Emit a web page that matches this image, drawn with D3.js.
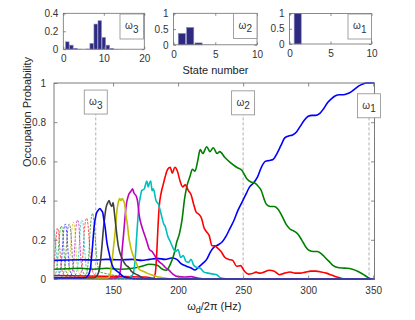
<!DOCTYPE html>
<html><head><meta charset="utf-8">
<script src="https://cdn.jsdelivr.net/npm/d3@7"></script>
<style>
body{margin:0;background:#fff}
svg{display:block}
text{font-family:"Liberation Sans",Arial,Helvetica,sans-serif}
</style>
</head><body>
<svg id="chart" width="415" height="320"></svg>
<script>
// ---------------- DATA ----------------
const mainXTicks = [150, 200, 250, 300, 350];
const mainYTicks = [0, 0.2, 0.4, 0.6, 0.8, 1];
const mainYTickLabels = ["0", "0.2", "0.4", "0.6", "0.8", "1"];

const markerLabels = ["3", "2", "1"];
const markerFreqs = [136.7, 250.0, 346.8];

// thick curves: states 1..8  [frequency (Hz), probability]
const state1 = [[104.6,0.095],[115,0.097],[125,0.098],[135,0.097],[145,0.1],[155,0.098],[165,0.1],[172,0.095],[178,0.1],[184,0.105],[190,0.1],[195,0.107],[199,0.1],[202,0.08],[206,0.066],[210,0.056],[213,0.046],[216,0.062],[219,0.08],[222,0.1],[225,0.14],[228,0.165],[231,0.175],[234,0.19],[237,0.22],[240,0.26],[243,0.3],[246,0.35],[249,0.39],[252,0.43],[255,0.47],[258,0.49],[261,0.52],[264,0.57],[267,0.6],[270,0.605],[273,0.61],[276,0.64],[279,0.68],[282,0.72],[285,0.73],[288,0.735],[291,0.75],[294,0.78],[297,0.81],[300,0.83],[303,0.835],[306,0.835],[309,0.845],[312,0.87],[315,0.9],[318,0.92],[321,0.935],[324,0.94],[327,0.94],[330,0.945],[333,0.955],[336,0.97],[339,0.985],[342,0.995],[345,1.0],[351,1.0]];
const state2 = [[104.6,0.05],[115,0.052],[125,0.055],[135,0.05],[145,0.055],[155,0.05],[165,0.055],[172,0.065],[178,0.075],[184,0.07],[188,0.05],[191,0.045],[194,0.075],[197,0.13],[199,0.19],[201,0.23],[203,0.3],[205,0.41],[207,0.48],[209,0.52],[211,0.56],[213,0.55],[215,0.6],[217,0.66],[219,0.64],[222,0.675],[224.5,0.65],[227,0.67],[230,0.64],[232,0.65],[236,0.62],[240,0.595],[245,0.57],[249,0.555],[253,0.51],[256,0.495],[259,0.49],[262,0.47],[264,0.45],[266,0.41],[268,0.38],[271,0.37],[274,0.37],[277,0.355],[280,0.32],[283,0.28],[286,0.255],[289,0.245],[292,0.23],[295,0.2],[298,0.165],[301,0.145],[304,0.14],[307,0.14],[310,0.13],[313,0.11],[316,0.09],[319,0.07],[322,0.06],[326,0.056],[330,0.055],[334,0.05],[338,0.04],[342,0.025],[346,0.008],[349,0],[351,0]];
const state3 = [[104.6,0.018],[130,0.015],[160,0.012],[175,0.01],[181,0.004],[182.5,0.03],[183.5,0.12],[184.5,0.26],[185.5,0.37],[187,0.44],[188.5,0.48],[190,0.52],[192,0.56],[194,0.57],[195.5,0.54],[197.5,0.57],[199.5,0.55],[201.5,0.5],[203.5,0.47],[205.5,0.48],[208,0.45],[210,0.43],[212,0.38],[214,0.34],[216,0.33],[218,0.31],[220,0.26],[222,0.24],[224,0.22],[226,0.17],[228,0.17],[230,0.16],[233,0.14],[236,0.11],[239,0.1],[242,0.095],[245,0.065],[248,0.068],[251,0.04],[254,0.025],[257,0.028],[260,0.035],[263,0.03],[266,0.035],[270,0.045],[274,0.04],[278,0.022],[282,0.03],[286,0.036],[290,0.03],[294,0.03],[298,0.035],[302,0.04],[306,0.04],[310,0.036],[314,0.03],[318,0.02],[322,0.01],[326,0.003],[330,0],[351,0]];
const state4 = [[104.6,0.008],[160,0.005],[165,0.02],[167,0.1],[168,0.2],[169,0.3],[170,0.38],[171,0.42],[172,0.45],[174,0.46],[176,0.5],[177,0.47],[178,0.49],[179,0.5],[180,0.45],[181,0.46],[183,0.4],[185,0.38],[187,0.33],[189,0.28],[190,0.27],[192,0.22],[194,0.19],[196,0.16],[198,0.14],[200,0.15],[202,0.11],[204,0.12],[206,0.09],[208,0.085],[210,0.1],[212,0.07],[214,0.06],[217,0.055],[220,0.035],[223,0.03],[227,0.025],[230,0.02],[233,0.005],[240,0],[351,0]];
const state5 = [[104.6,0.004],[150,0.003],[154,0.01],[156,0.06],[157,0.15],[158,0.22],[159,0.3],[160,0.37],[162,0.43],[164,0.45],[165,0.46],[166,0.44],[168,0.42],[169,0.39],[170,0.33],[172,0.27],[174,0.23],[176,0.19],[178,0.15],[180,0.14],[182,0.12],[184,0.1],[186,0.085],[188,0.075],[190,0.06],[193,0.045],[196,0.025],[200,0.012],[205,0.01],[210,0.012],[215,0.005],[220,0],[351,0]];
const state6 = [[104.6,0.004],[145,0.003],[147,0.01],[148,0.03],[149,0.08],[150,0.14],[151,0.2],[152,0.27],[153,0.35],[154,0.39],[155,0.41],[156,0.4],[157,0.41],[158,0.4],[159,0.38],[160,0.32],[161,0.28],[162,0.22],[163,0.18],[164,0.15],[166,0.11],[168,0.08],[170,0.05],[173,0.04],[176,0.03],[180,0.02],[185,0.01],[190,0.005],[195,0],[351,0]];
const state7 = [[104.6,0.005],[135,0.005],[138,0.02],[139.5,0.05],[140.5,0.1],[141.5,0.17],[142.5,0.25],[143.5,0.31],[144.5,0.36],[146,0.39],[147,0.4],[148,0.38],[149,0.37],[150,0.39],[151,0.34],[152,0.28],[153,0.22],[154,0.17],[155,0.14],[156,0.12],[158,0.09],[160,0.07],[162,0.06],[164,0.04],[166,0.03],[169,0.02],[173,0.005],[178,0],[351,0]];
const state8 = [[104.6,0.003],[128,0.005],[131,0.02],[132.5,0.05],[134,0.15],[135.5,0.27],[137,0.33],[138.5,0.35],[140,0.36],[141,0.35],[142,0.34],[143,0.3],[144,0.26],[145,0.2],[146,0.16],[147,0.13],[148,0.1],[150,0.06],[152,0.045],[155,0.03],[158,0.012],[162,0.005],[170,0],[351,0]];

// thin curves: states 9..18
const state9 = [[104.6,0.004],[125,0.004],[128,0.012],[130,0.04],[131.5,0.14],[132.5,0.26],[133.5,0.32],[134.3,0.335],[135.2,0.3],[136.2,0.22],[137.3,0.12],[138.5,0.06],[140,0.035],[143,0.03],[150,0.02],[160,0.01],[170,0.003],[351,0]];
const state10 = [[104.6,0.004],[121,0.004],[124,0.015],[126,0.05],[127,0.14],[128,0.25],[129,0.3],[129.8,0.31],[130.7,0.28],[131.6,0.2],[132.6,0.1],[134,0.045],[136,0.02],[140,0.01],[150,0.004],[351,0]];
const state11 = [[104.6,0.004],[118,0.005],[121,0.02],[123,0.07],[124,0.17],[125,0.27],[126,0.3],[126.8,0.29],[127.6,0.22],[128.5,0.12],[129.6,0.05],[131.5,0.02],[136,0.008],[145,0.003],[351,0]];
const state12 = [[104.6,0.004],[115,0.005],[117.5,0.02],[119.5,0.07],[120.6,0.17],[121.6,0.27],[122.6,0.3],[123.5,0.29],[124.4,0.2],[125.3,0.1],[126.5,0.045],[128.5,0.02],[133,0.008],[142,0.003],[351,0]];
const state13 = [[104.6,0.004],[112,0.006],[114.5,0.02],[116.3,0.07],[117.4,0.17],[118.5,0.26],[119.4,0.29],[120.3,0.27],[121.2,0.19],[122.1,0.09],[123.3,0.04],[125.5,0.018],[130,0.007],[140,0.003],[351,0]];
const state14 = [[104.6,0.005],[109,0.008],[111.5,0.025],[113.2,0.08],[114.3,0.18],[115.3,0.26],[116.3,0.28],[117.2,0.26],[118.1,0.18],[119,0.08],[120.2,0.035],[122.5,0.015],[127,0.006],[137,0.002],[351,0]];
const state15 = [[104.6,0.006],[108.5,0.025],[110.2,0.08],[111.3,0.18],[112.3,0.26],[113.3,0.28],[114.2,0.25],[115.1,0.17],[116,0.08],[117.2,0.035],[119.5,0.015],[124,0.006],[134,0.002],[351,0]];
const state16 = [[104.6,0.012],[106,0.03],[107.3,0.09],[108.3,0.18],[109.3,0.25],[110.2,0.27],[111.1,0.25],[112,0.17],[112.9,0.08],[114.1,0.035],[116.5,0.015],[121,0.006],[131,0.002],[351,0]];
const state17 = [[104.6,0.06],[105.5,0.14],[106.4,0.22],[107.2,0.26],[108.1,0.24],[109,0.16],[109.9,0.08],[111.1,0.035],[113.5,0.015],[118,0.006],[128,0.002],[351,0]];
const state18 = [[104.6,0.25],[105.3,0.22],[106.2,0.15],[107.1,0.07],[108.3,0.03],[110.5,0.012],[115,0.005],[125,0.002],[351,0]];

const thickStates = [state1, state2, state3, state4, state5, state6, state7, state8];
const thinStates = [state9, state10, state11, state12, state13, state14, state15, state16, state17, state18];

// insets: state-number bar charts
const inset3States = [1,2,3,4,5,6,7,8,9,10,11,12,13,14,15,16,17,18,19,20];
const inset3Probs  = [0.082,0.045,0.01,0.003,0.001,0.004,0.064,0.28,0.317,0.131,0.045,0.008,0.002,0.001,0,0,0,0,0,0];
const inset2States = [1,2,3,4,5,6,7,8,9,10];
const inset2Probs  = [0.36,0.55,0.06,0.003,0,0,0,0,0,0];
const inset1States = [1,2,3,4,5,6,7,8,9,10];
const inset1Probs  = [1.0,0,0,0,0,0,0,0,0,0];
const inset3XTicks = [0,10,20], inset3YTicks = [0,0.2,0.4], inset3YLabels = ["0","0.2","0.4"];
const inset2XTicks = [0,5,10],  inset2YTicks = [0,0.5,1],   inset2YLabels = ["0","0.5","1"];
const inset1XTicks = [0,5,10],  inset1YTicks = [0,0.5,1],   inset1YLabels = ["0","0.5","1"];

// ---------------- STYLE ----------------
const lineColors = ["#0000ff","#008000","#ff0000","#00bfbf","#bf00bf","#bfbf00","#404040"];
const axisColor = "#6e6e6e";
const labelColor = "#333";
const barFill = "#2d2a80";
const barEdge = "#8a88c4";

const svg = d3.select("#chart");
svg.append("rect").attr("width",415).attr("height",320).attr("fill","#fff");

// ---------------- MAIN AXES ----------------
const M = {left:54, right:374.5, top:83, bottom:279};
const x = d3.scaleLinear().domain([104.6, 351]).range([M.left, M.right]);
const y = d3.scaleLinear().domain([0, 1]).range([M.bottom, M.top]);

svg.append("defs").append("clipPath").attr("id","clipMain")
  .append("rect").attr("x",M.left).attr("y",M.top-2).attr("width",M.right-M.left).attr("height",M.bottom-M.top+3);

const line = d3.line().x(d=>x(d[0])).y(d=>y(d[1])).curve(d3.curveMonotoneX);

function styleAxis(g, showText){
  g.select(".domain").remove();
  g.selectAll(".tick line").attr("stroke",axisColor).attr("stroke-width",0.8);
  g.selectAll(".tick text").attr("fill",labelColor).style("font-size","10px");
  if(!showText) g.selectAll(".tick text").remove();
}

// marker dashed lines
markerFreqs.forEach((f,i)=>{
  svg.append("line").attr("x1",x(f)).attr("x2",x(f))
    .attr("y1",y(0.85)).attr("y2",M.bottom)
    .attr("stroke","#9a9a9a").attr("stroke-width",0.8).attr("stroke-dasharray","3,2");
});

const curves = svg.append("g").attr("clip-path","url(#clipMain)");
thinStates.forEach((s,i)=>{
  curves.append("path").datum(s).attr("d",line).attr("fill","none")
    .attr("stroke",lineColors[(i+8)%7]).attr("stroke-width",0.8)
    .attr("stroke-dasharray","2.5,1.2").attr("opacity",0.85);
});
thickStates.forEach((s,i)=>{
  curves.append("path").datum(s).attr("d",line).attr("fill","none")
    .attr("stroke",lineColors[i%7]).attr("stroke-width",1.6)
    .attr("stroke-linejoin","round");
});

// axes box & ticks
svg.append("rect").attr("x",M.left).attr("y",M.top).attr("width",M.right-M.left).attr("height",M.bottom-M.top)
  .attr("fill","none").attr("stroke",axisColor).attr("stroke-width",0.9);
svg.append("g").attr("transform",`translate(0,${M.bottom})`)
  .call(d3.axisBottom(x).tickValues(mainXTicks).tickSizeInner(-3.5).tickSizeOuter(0).tickPadding(8).tickFormat(d3.format("d")))
  .call(g=>styleAxis(g,true));
svg.append("g").attr("transform",`translate(0,${M.top})`)
  .call(d3.axisTop(x).tickValues(mainXTicks).tickSizeInner(-3.5).tickSizeOuter(0))
  .call(g=>styleAxis(g,false));
svg.append("g").attr("transform",`translate(${M.left},0)`)
  .call(d3.axisLeft(y).tickValues(mainYTicks).tickSizeInner(-3.5).tickSizeOuter(0).tickPadding(8).tickFormat((d,i)=>mainYTickLabels[i]))
  .call(g=>styleAxis(g,true));
svg.append("g").attr("transform",`translate(${M.right},0)`)
  .call(d3.axisRight(y).tickValues(mainYTicks).tickSizeInner(-3.5).tickSizeOuter(0))
  .call(g=>styleAxis(g,false));

// marker label boxes
const boxTops = [0.964, 0.96, 0.945];
markerFreqs.forEach((f,i)=>{
  const cx = x(f), ty = y(boxTops[i]);
  const g = svg.append("g");
  g.append("rect").attr("x",cx-11.5).attr("y",ty).attr("width",23).attr("height",24)
    .attr("fill","#fff").attr("stroke","#8c8c8c").attr("stroke-width",0.8);
  const t = g.append("text").attr("x",cx).attr("y",ty+15).attr("text-anchor","middle")
    .attr("fill","#333").style("font-size","10px");
  t.append("tspan").text("ω");
  t.append("tspan").attr("dy",3.5).style("font-size","10px").text(markerLabels[i]);
});

// axis labels
svg.append("text").attr("transform","translate(31,112) rotate(-90)").attr("text-anchor","middle")
  .attr("fill","#222").style("font-size","11px").text("Occupation Probability");
const xl = svg.append("text").attr("x",(M.left+M.right)/2).attr("y",310).attr("text-anchor","middle")
  .attr("fill","#222").style("font-size","11px");
xl.append("tspan").text("ω");
xl.append("tspan").attr("dy",3).style("font-size","9px").text("d");
xl.append("tspan").attr("dy",-3).text("/2π (Hz)");

// ---------------- INSETS ----------------
function inset(box, xDomain, yDomain, states, probs, xTicks, yTicks, yLabels, sub, legBox){
  const ix = d3.scaleLinear().domain(xDomain).range([box.left, box.right]);
  const iy = d3.scaleLinear().domain(yDomain).range([box.bottom, box.top]);
  const unit = ix(1)-ix(0);
  const g = svg.append("g");
  g.selectAll("rect.bar").data(states.map((s,i)=>[s,probs[i]])).enter().append("rect")
    .attr("x",d=>ix(d[0])-0.43*unit).attr("width",0.86*unit)
    .attr("y",d=>iy(Math.min(d[1],yDomain[1]))).attr("height",d=>iy(0)-iy(Math.min(d[1],yDomain[1])))
    .attr("fill",barFill).attr("stroke",barEdge).attr("stroke-width",d=>d[1]>0.004?0.6:0);
  g.append("rect").attr("x",box.left).attr("y",box.top).attr("width",box.right-box.left).attr("height",box.bottom-box.top)
    .attr("fill","none").attr("stroke",axisColor).attr("stroke-width",0.8);
  g.append("g").attr("transform",`translate(0,${box.bottom})`)
    .call(d3.axisBottom(ix).tickValues(xTicks).tickSizeInner(-2.5).tickSizeOuter(0).tickPadding(6).tickFormat(d3.format("d")))
    .call(a=>styleAxis(a,true));
  g.append("g").attr("transform",`translate(0,${box.top})`)
    .call(d3.axisTop(ix).tickValues(xTicks).tickSizeInner(-2.5).tickSizeOuter(0))
    .call(a=>styleAxis(a,false));
  g.append("g").attr("transform",`translate(${box.left},0)`)
    .call(d3.axisLeft(iy).tickValues(yTicks).tickSizeInner(-2.5).tickSizeOuter(0).tickPadding(5).tickFormat((d,i)=>yLabels[i]))
    .call(a=>styleAxis(a,true));
  g.append("g").attr("transform",`translate(${box.right},0)`)
    .call(d3.axisRight(iy).tickValues(yTicks).tickSizeInner(-2.5).tickSizeOuter(0))
    .call(a=>styleAxis(a,false));
  // legend box
  g.append("rect").attr("x",legBox.x).attr("y",legBox.y).attr("width",legBox.w).attr("height",legBox.h)
    .attr("fill","#fff").attr("stroke","#8c8c8c").attr("stroke-width",0.8);
  const t = g.append("text").attr("x",legBox.x+legBox.w/2).attr("y",legBox.y+15).attr("text-anchor","middle")
    .attr("fill","#333").style("font-size","10px");
  t.append("tspan").text("ω");
  t.append("tspan").attr("dy",3.5).text(sub);
}
inset({left:63.3,right:144.3,top:13.3,bottom:49.2},[0,20],[0,0.4],inset3States,inset3Probs,inset3XTicks,inset3YTicks,inset3YLabels,"3",{x:120,y:14,w:23.5,h:25});
inset({left:173.5,right:257,top:13.3,bottom:44.8},[0,10],[0,1],inset2States,inset2Probs,inset2XTicks,inset2YTicks,inset2YLabels,"2",{x:233.5,y:13.5,w:23.5,h:25});
inset({left:289.5,right:371.5,top:13.5,bottom:44},[0,10],[0,1],inset1States,inset1Probs,inset1XTicks,inset1YTicks,inset1YLabels,"1",{x:348,y:14,w:23.5,h:25});

svg.append("text").attr("x",215.5).attr("y",74).attr("text-anchor","middle")
  .attr("fill","#222").style("font-size","11px").text("State number");
</script>
</body></html>
